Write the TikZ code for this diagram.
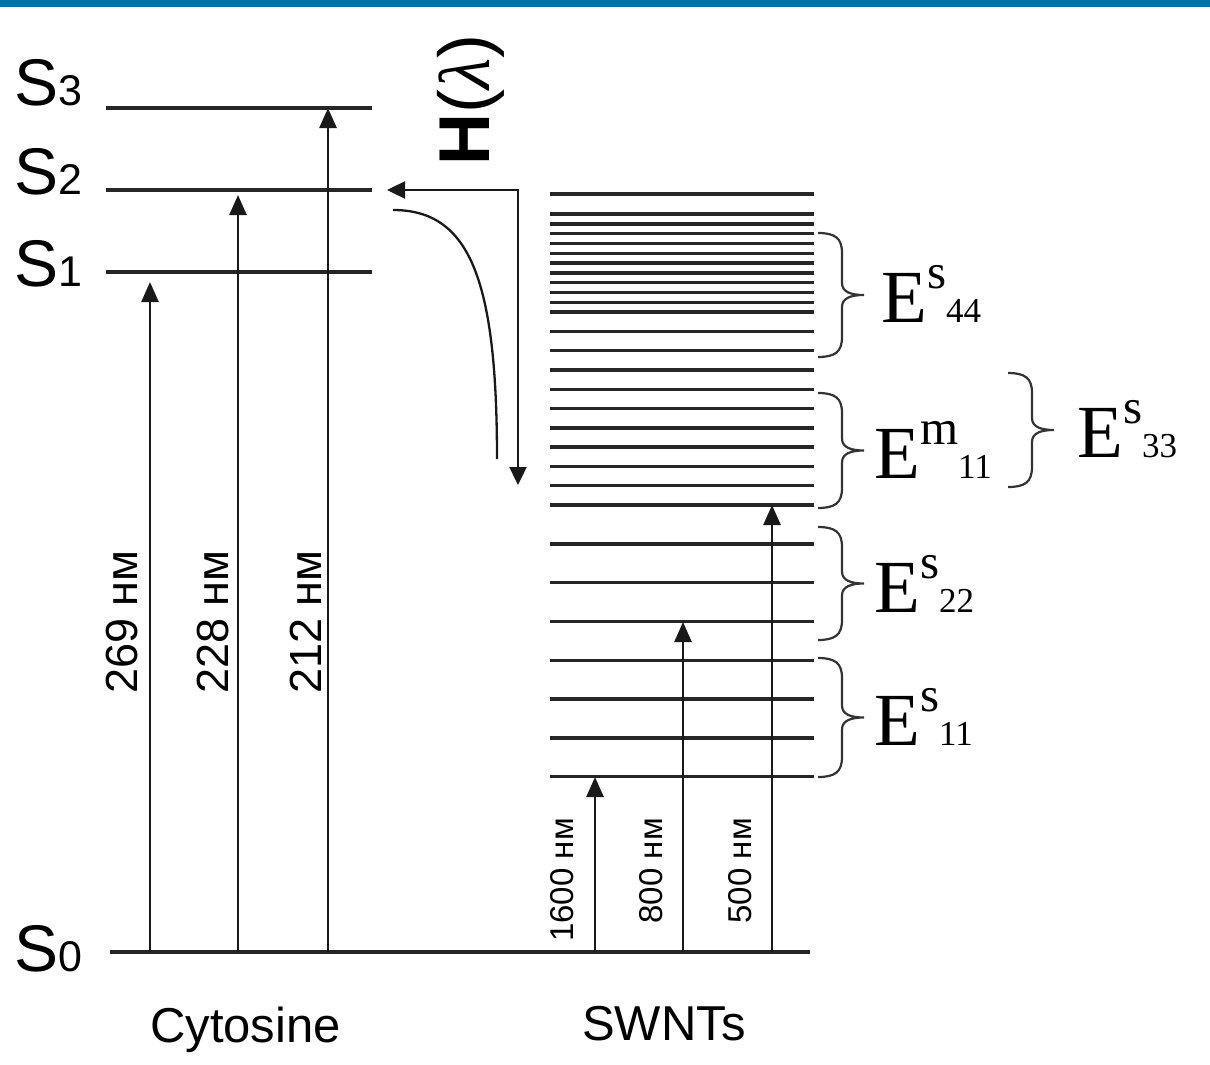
\documentclass[tikz,border=0pt]{standalone}
\usepackage{fontspec}
\setmainfont{Liberation Serif}
\setsansfont{Liberation Sans}
\usetikzlibrary{arrows.meta}
\definecolor{barblue}{RGB}{0,113,170}
\newcommand{\Slev}[1]{S{\fontsize{43}{43}\selectfont #1}}
\newcommand{\Elev}[2]{E\raisebox{34pt}{\fontsize{49}{49}\selectfont #1}{\fontsize{35}{35}\selectfont #2}}
\newcommand{\bandbrace}[3]{%
  \draw[band] (#1,#2) .. controls ({#1+17},#2) and ({#1+24},{#2+5}) .. ({#1+24},{#2+20})
    -- ({#1+24},{(#2+#3)/2-12}) .. controls ({#1+24},{(#2+#3)/2-3}) and ({#1+33},{(#2+#3)/2}) .. ({#1+46},{(#2+#3)/2})
    .. controls ({#1+33},{(#2+#3)/2}) and ({#1+24},{(#2+#3)/2+3}) .. ({#1+24},{(#2+#3)/2+12})
    -- ({#1+24},{#3-20}) .. controls ({#1+24},{#3-5}) and ({#1+17},#3) .. (#1,#3);}

\begin{document}
\begin{tikzpicture}[
  x=1pt, y=-1pt,
  font=\sffamily,
  level/.style={draw=black!85, line width=3.4pt},
  arr/.style={draw=black!90, line width=2.6pt, -{Triangle[length=20pt,width=17pt]}},
  harr/.style={draw=black!90, line width=2.4pt, {Triangle[length=18pt,width=17pt]}-{Triangle[length=18pt,width=17pt]}},
  curve/.style={draw=black!90, line width=2.3pt},
  band/.style={draw=black!80, line width=2.2pt},
  wave/.style={rotate=90, anchor=east, inner sep=0pt, font=\sffamily\fontsize{45}{45}\selectfont},
  swave/.style={wave, font=\sffamily\fontsize{33}{33}\selectfont},
  slabel/.style={anchor=base west, inner sep=0pt, font=\sffamily\fontsize{66}{66}\selectfont},
  elabel/.style={anchor=base west, inner sep=0pt, font=\rmfamily\fontsize{75}{75}\selectfont},
  title/.style={anchor=base west, inner sep=0pt, font=\sffamily\fontsize{49}{49}\selectfont}
]
\useasboundingbox (0,0) rectangle (1210,1065);
\fill[barblue] (0,0) rectangle (1210,7.5);

\node[slabel] (s3) at (14,106) {\Slev{3}};
\node[slabel] (s2) at (14,194) {\Slev{2}};
\node[slabel] (s1) at (14,286) {\Slev{1}};
\node[slabel] (s0) at (14,971) {\Slev{0}};

\draw[level] (106,108) -- (372,108);
\draw[level] (106,190) -- (372,190);
\draw[level] (106,272) -- (372,272);
\draw[level] (110,952) -- (810,952);

\draw[level] (550,194) -- (814,194);
\foreach \i in {0,...,10} \draw[level] (550,214+9.8*\i) -- (814,214+9.8*\i);
\foreach \i in {1,...,10} \draw[level] (550,312+19.3*\i) -- (814,312+19.3*\i);
\foreach \i in {1,...,7} \draw[level] (550,505+38.8*\i) -- (814,505+38.8*\i);

\coordinate (g269) at (150,952); \coordinate (t269) at (150,282);
\coordinate (g228) at (238,952); \coordinate (t228) at (238,195);
\coordinate (g212) at (328,952); \coordinate (t212) at (328,108);
\coordinate (g1600) at (595,952); \coordinate (t1600) at (595,777);
\coordinate (g800) at (683,952); \coordinate (t800) at (683,622);
\coordinate (g500) at (772,952); \coordinate (t500) at (772,505);

\draw[arr] (g269) -- (t269);
\draw[arr] (g228) -- (t228);
\draw[arr] (g212) -- (t212);
\draw[arr] (g1600) -- (t1600);
\draw[arr] (g800) -- (t800);
\draw[arr] (g500) -- (t500);

\node[wave] (w269) at (122,550) {269 нм};
\node[wave] (w228) at (213,550) {228 нм};
\node[wave] (w212) at (306,550) {212 нм};
\node[swave] (w1600) at (562,818) {1600 нм};
\node[swave] (w800) at (651,818) {800 нм};
\node[swave] (w500) at (740,818) {500 нм};

\coordinate (hs) at (387,190); \coordinate (hc) at (518,190); \coordinate (he) at (518,485);
\draw[harr] (hs) -- (hc) -- (he);
\coordinate (cs) at (393,210); \coordinate (ce) at (497,459);
\draw[curve] (cs) .. controls (470,210) and (497,280) .. (ce);
\node[rotate=90, anchor=base west, inner sep=0pt, font=\sffamily\fontsize{72}{72}\selectfont] (hl) at (489,166) {\textbf{H}({\rmfamily\itshape λ})};

\bandbrace{818}{233}{357}
\bandbrace{818}{393}{508}
\bandbrace{1008}{373}{487}
\bandbrace{818}{527}{640}
\bandbrace{818}{658}{777}

\node[elabel] (e44) at (881,322) {\Elev{s}{44}};
\node[elabel] (em11) at (874,478) {\Elev{m}{11}};
\node[elabel] (e33) at (1077,457) {\Elev{s}{33}};
\node[elabel] (e22) at (874,612) {\Elev{s}{22}};
\node[elabel] (e11) at (874,745) {\Elev{s}{11}};

\node[title] (cyt) at (150,1042) {Cytosine};
\node[title] (swnt) at (582,1040) {SWNTs};
\end{tikzpicture}
\end{document}
